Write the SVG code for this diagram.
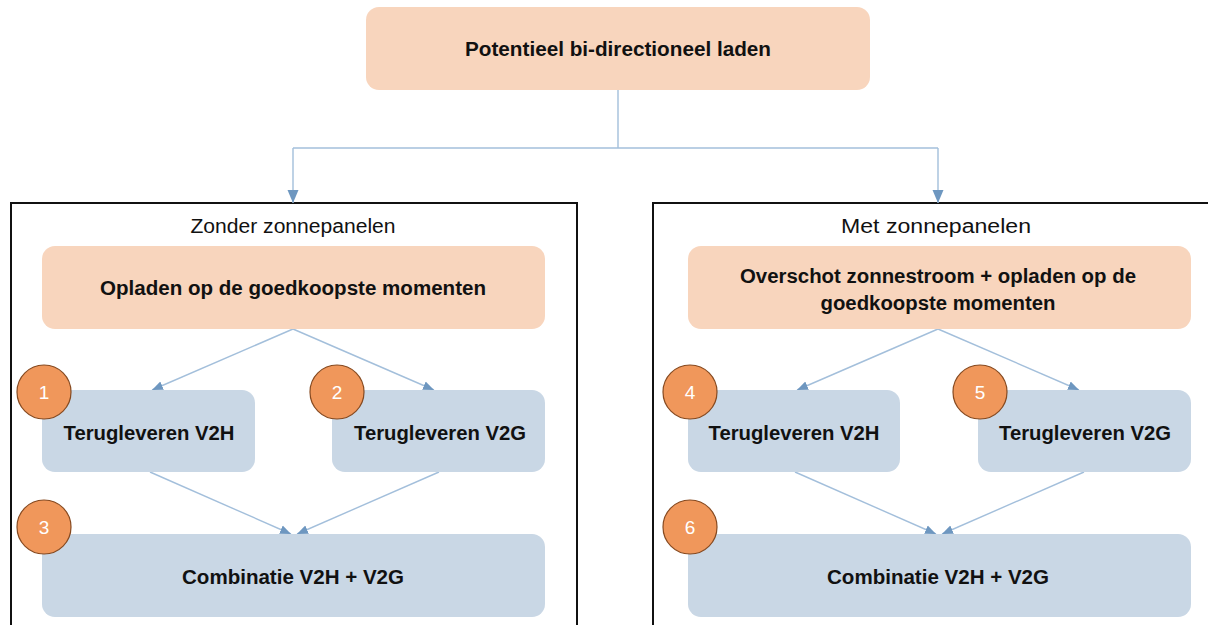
<svg xmlns="http://www.w3.org/2000/svg" width="1208" height="625" viewBox="0 0 1208 625">
<style>
.peach{fill:#f8d5bd}
.blue{fill:#c9d7e5}
.frame{fill:none;stroke:#111;stroke-width:2}
.b{font-family:"Liberation Sans",Arial,sans-serif;font-weight:bold;font-size:20px;fill:#111;text-anchor:middle}
.r{font-family:"Liberation Sans",Arial,sans-serif;font-size:20px;fill:#111;text-anchor:middle}
.num{font-family:"Liberation Sans",Arial,sans-serif;font-size:19px;fill:#fff;text-anchor:middle}
.badge{fill:#f0975b;stroke:#86491f;stroke-width:1.2}
.con{fill:none;stroke:#a3bfdb;stroke-width:1.4}
</style>
<defs>
<marker id="ah" markerUnits="userSpaceOnUse" markerWidth="12" markerHeight="12" viewBox="0 0 12 12" refX="11" refY="6" orient="auto">
<path d="M0,1.5 L11,6 L0,10.5 Z" fill="#6e97c0"/>
</marker>
<marker id="ahb" markerUnits="userSpaceOnUse" markerWidth="14" markerHeight="14" viewBox="0 0 14 14" refX="13" refY="7" orient="auto">
<path d="M0,1.5 L13,7 L0,12.5 Z" fill="#6e97c0"/>
</marker>
</defs>

<g id="frame-left"><rect class="frame" x="11" y="203" width="566" height="500"/><text class="r" x="293" y="233" textLength="205" lengthAdjust="spacingAndGlyphs">Zonder zonnepanelen</text></g>
<g id="frame-right"><rect class="frame" x="653" y="203" width="600" height="500"/><text class="r" x="936" y="233" textLength="190" lengthAdjust="spacingAndGlyphs">Met zonnepanelen</text></g>

<g id="connectors">
<path class="con" d="M618,90 V148"/>
<path class="con" d="M293,148 H938"/>
<path class="con" d="M293,148 V203" marker-end="url(#ahb)"/>
<path class="con" d="M938,148 V203" marker-end="url(#ahb)"/>
<path class="con" d="M293,329 L152,390" marker-end="url(#ah)"/>
<path class="con" d="M293,329 L434,390" marker-end="url(#ah)"/>
<path class="con" d="M150,472 L291,534" marker-end="url(#ah)"/>
<path class="con" d="M439,472 L297,534" marker-end="url(#ah)"/>
<path class="con" d="M938,329 L797,390" marker-end="url(#ah)"/>
<path class="con" d="M938,329 L1079,390" marker-end="url(#ah)"/>
<path class="con" d="M795,472 L936,534" marker-end="url(#ah)"/>
<path class="con" d="M1084,472 L942,534" marker-end="url(#ah)"/>
</g>

<g id="top"><rect class="peach" x="366" y="7" width="504" height="83" rx="13"/><text class="b" x="618" y="56" textLength="306" lengthAdjust="spacingAndGlyphs">Potentieel bi-directioneel laden</text></g>

<g id="opladen"><rect class="peach" x="42" y="246" width="503" height="83" rx="13"/><text class="b" x="293" y="295" textLength="386" lengthAdjust="spacingAndGlyphs">Opladen op de goedkoopste momenten</text></g>
<g id="v2h-left"><rect class="blue" x="42" y="390" width="213" height="82" rx="13"/><text class="b" x="149" y="440" textLength="171" lengthAdjust="spacingAndGlyphs">Terugleveren V2H</text></g>
<g id="v2g-left"><rect class="blue" x="332" y="390" width="213" height="82" rx="13"/><text class="b" x="440" y="440" textLength="172" lengthAdjust="spacingAndGlyphs">Terugleveren V2G</text></g>
<g id="combi-left"><rect class="blue" x="42" y="534" width="503" height="83" rx="13"/><text class="b" x="293" y="584" textLength="222" lengthAdjust="spacingAndGlyphs">Combinatie  V2H + V2G</text></g>
<g id="badge-1"><circle class="badge" cx="44" cy="392" r="27"/><text class="num" x="44" y="399">1</text></g>
<g id="badge-2"><circle class="badge" cx="337" cy="392" r="27"/><text class="num" x="337" y="399">2</text></g>
<g id="badge-3"><circle class="badge" cx="44" cy="527" r="27"/><text class="num" x="44" y="534">3</text></g>

<g id="overschot"><rect class="peach" x="688" y="246" width="503" height="83" rx="13"/><text class="b" x="938" y="283" textLength="396" lengthAdjust="spacingAndGlyphs">Overschot zonnestroom + opladen op de</text><text class="b" x="938" y="310" textLength="235" lengthAdjust="spacingAndGlyphs">goedkoopste momenten</text></g>
<g id="v2h-right"><rect class="blue" x="688" y="390" width="212" height="82" rx="13"/><text class="b" x="794" y="440" textLength="171" lengthAdjust="spacingAndGlyphs">Terugleveren V2H</text></g>
<g id="v2g-right"><rect class="blue" x="978" y="390" width="213" height="82" rx="13"/><text class="b" x="1085" y="440" textLength="172" lengthAdjust="spacingAndGlyphs">Terugleveren V2G</text></g>
<g id="combi-right"><rect class="blue" x="688" y="534" width="503" height="83" rx="13"/><text class="b" x="938" y="584" textLength="222" lengthAdjust="spacingAndGlyphs">Combinatie  V2H + V2G</text></g>
<g id="badge-4"><circle class="badge" cx="690" cy="392" r="27"/><text class="num" x="690" y="399">4</text></g>
<g id="badge-5"><circle class="badge" cx="980" cy="392" r="27"/><text class="num" x="980" y="399">5</text></g>
<g id="badge-6"><circle class="badge" cx="690" cy="527" r="27"/><text class="num" x="690" y="534">6</text></g>
</svg>
